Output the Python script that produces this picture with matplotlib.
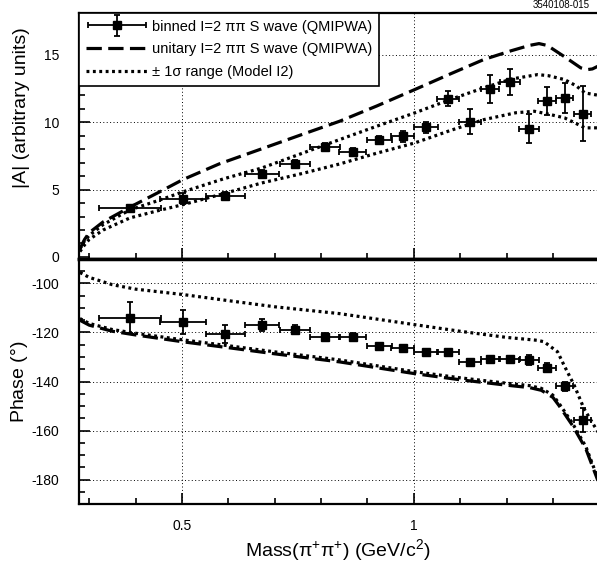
import numpy as np
import matplotlib
matplotlib.use("Agg")
import matplotlib.pyplot as plt
from matplotlib.ticker import MultipleLocator, FixedLocator, FuncFormatter
from matplotlib.legend_handler import HandlerErrorbar
from matplotlib.container import ErrorbarContainer

plt.rcParams['font.family'] = ['Liberation Sans', 'DejaVu Sans']
plt.rcParams['mathtext.fontset'] = 'custom'
plt.rcParams['mathtext.rm'] = 'Liberation Sans'
plt.rcParams['axes.unicode_minus'] = False

# binned points (mass in GeV/c^2)
mass = [0.388, 0.502, 0.593, 0.672, 0.744, 0.808, 0.868, 0.925, 0.976,
        1.027, 1.074, 1.121, 1.164, 1.207, 1.248, 1.287, 1.325, 1.364]
mass_err = [0.066, 0.049, 0.042, 0.037, 0.033, 0.032, 0.029, 0.027, 0.025,
            0.026, 0.023, 0.023, 0.020, 0.021, 0.021, 0.019, 0.019, 0.019]
amp = [3.64, 4.33, 4.53, 6.18, 6.90, 8.14, 7.80, 8.71, 8.95,
       9.62, 11.75, 10.04, 12.47, 12.96, 9.53, 11.58, 11.78, 10.62]
amp_err = [0.15, 0.40, 0.30, 0.30, 0.30, 0.30, 0.30, 0.30, 0.40,
           0.40, 0.56, 0.95, 1.03, 0.96, 1.09, 1.03, 1.10, 2.04]
phase = [-113.9, -115.7, -120.6, -116.9, -118.8, -121.8, -121.8, -125.5, -126.4,
         -127.9, -127.8, -132.2, -130.9, -130.9, -131.3, -134.3, -142.0, -155.9]
phase_err = [6.5, 4.8, 3.6, 2.4, 2.0, 1.5, 1.5, 1.0, 1.0,
             1.0, 1.0, 1.2, 1.2, 1.2, 2.0, 2.0, 2.0, 4.9]

# unitary curve, magnitude
uni_m = [0.280, 0.290, 0.300, 0.330, 0.388, 0.450, 0.502, 0.580, 0.670, 0.760,
         0.840, 0.920, 1.002, 1.080, 1.151, 1.210, 1.250, 1.270, 1.288, 1.323,
         1.360, 1.374, 1.385, 1.397]
uni_a = [0.6, 1.3, 1.8, 2.6, 3.7, 4.8, 5.74, 6.9, 8.0, 9.1,
         10.07, 11.2, 12.42, 13.6, 14.65, 15.3, 15.7, 15.83, 15.69, 14.9,
         14.03, 13.9, 13.95, 14.15]

# +-1 sigma band, magnitude
hi_m = [0.280, 0.290, 0.300, 0.330, 0.388, 0.450, 0.502, 0.590, 0.672, 0.760,
        0.840, 0.920, 1.002, 1.080, 1.151, 1.210, 1.267, 1.290, 1.325, 1.350,
        1.369, 1.397]
hi_a = [0.6, 1.2, 1.6, 2.4, 3.5, 4.2, 4.83, 5.8, 6.6, 7.7,
        8.71, 9.7, 10.69, 11.7, 12.55, 13.2, 13.53, 13.45, 13.16, 12.7,
        12.17, 12.0]
lo_m = [0.280, 0.290, 0.300, 0.330, 0.388, 0.450, 0.502, 0.590, 0.672, 0.760,
        0.840, 0.920, 1.002, 1.080, 1.151, 1.220, 1.260, 1.290, 1.325, 1.350,
        1.369, 1.397]
lo_a = [0.4, 0.9, 1.3, 2.0, 2.9, 3.45, 3.88, 4.7, 5.49, 6.2,
        6.9, 7.7, 8.46, 9.4, 10.19, 10.7, 10.81, 10.6, 10.32, 9.9,
        9.58, 9.58]

# phase curves
uni_pm = [0.280, 0.300, 0.350, 0.400, 0.502, 0.600, 0.700, 0.840, 1.002, 1.100,
          1.200, 1.250, 1.275, 1.300, 1.313, 1.342, 1.371, 1.397]
uni_ph = [-115.0, -117.0, -119.5, -121.0, -123.8, -126.2, -128.7, -132.0, -136.8, -139.3,
          -141.5, -142.5, -143.6, -146.5, -149.8, -157.9, -167.5, -180.5]
lo_ph = [-114.3, -116.3, -118.8, -120.3, -123.0, -125.4, -127.9, -131.2, -136.0, -138.5,
         -140.7, -141.7, -142.8, -145.6, -148.9, -157.0, -166.6, -179.6]
hi_pm = [0.280, 0.300, 0.350, 0.400, 0.502, 0.600, 0.700, 0.840, 1.002, 1.100,
         1.200, 1.267, 1.281, 1.310, 1.324, 1.346, 1.367, 1.397]
hi_ph = [-95.5, -97.5, -100.5, -102.3, -104.5, -107.0, -109.5, -112.3, -116.8, -119.5,
         -122.0, -123.2, -123.8, -127.9, -133.4, -141.6, -151.1, -160.6]

W, H = 597, 566
fig = plt.figure(figsize=(W / 100, H / 100), dpi=100)
ax1 = fig.add_axes([79 / W, 1 - 259 / H, 1 - 79 / W, 246 / H])
ax2 = fig.add_axes([79 / W, 62 / H, 1 - 79 / W, 245 / H])

dash = (0, (4.8, 2.0))
dot = (0, (0.9, 1.1))
grid_kw = dict(color='black', lw=0.7, ls=(0, (1, 2.5)), zorder=0)
eb_kw = dict(fmt='s', color='black', ms=6.3, elinewidth=1.3, capsize=2.5, capthick=1.3, zorder=5)

# top panel: magnitude
ax1.plot(uni_m, uni_a, color='black', lw=2.3, ls=dash, label='unitary I=2 ππ S wave (QMIPWA)')
ax1.plot(hi_m, hi_a, color='black', lw=2.3, ls=dot, label='± 1σ range (Model I2)')
ax1.plot(lo_m, lo_a, color='black', lw=2.3, ls=dot)
ax1.errorbar(mass, amp, xerr=mass_err, yerr=amp_err, label='binned I=2 ππ S wave (QMIPWA)', **eb_kw)

# bottom panel: phase
ax2.plot(uni_pm, uni_ph, color='black', lw=2.3, ls=dash)
ax2.plot(uni_pm, lo_ph, color='black', lw=2.3, ls=dot)
ax2.plot(hi_pm, hi_ph, color='black', lw=2.3, ls=dot)
ax2.errorbar(mass, phase, xerr=mass_err, yerr=phase_err, **eb_kw)

for ax in (ax1, ax2):
    ax.set_xlim(0.278, 1.395)
    ax.xaxis.set_major_locator(FixedLocator([0.5, 1.0]))
    ax.xaxis.set_minor_locator(MultipleLocator(0.1))
    ax.xaxis.set_major_formatter(FuncFormatter(lambda v, p: '%g' % v))
    ax.tick_params(which='both', direction='in', top=False, right=False, width=1.2, labelsize=10)
    ax.tick_params(which='major', length=8)
    ax.tick_params(which='minor', length=4.5)
    ax.tick_params(axis='y', pad=14)
    ax.tick_params(axis='x', pad=11)
    ax.spines['right'].set_visible(False)
    ax.spines['left'].set_linewidth(1.6)
    for v in (0.5, 1.0):
        ax.axvline(v, **grid_kw)

ax1.set_ylim(-0.15, 18.1)
ax1.yaxis.set_major_locator(MultipleLocator(5))
ax1.yaxis.set_minor_locator(MultipleLocator(1))
ax1.tick_params(axis='x', labelbottom=False)
ax1.spines['top'].set_linewidth(1.6)
ax1.spines['bottom'].set_linewidth(2.5)
for v in (5, 10, 15):
    ax1.axhline(v, **grid_kw)

ax2.set_ylim(-190, -90)
ax2.yaxis.set_major_locator(MultipleLocator(20))
ax2.yaxis.set_minor_locator(MultipleLocator(5))
ax2.spines['top'].set_linewidth(2.5)
ax2.spines['bottom'].set_linewidth(1.6)
for v in (-100, -120, -140, -160, -180):
    ax2.axhline(v, **grid_kw)

# legend order: points, unitary, band
handles, labels = ax1.get_legend_handles_labels()
order = [2, 0, 1]
leg = ax1.legend([handles[i] for i in order], [labels[i] for i in order],
                 loc='upper left', bbox_to_anchor=(0, 1), borderaxespad=0,
                 fontsize=10.5, handlelength=4.3, handletextpad=0.25, borderpad=0.45,
                 labelspacing=0.6, fancybox=False, framealpha=1, edgecolor='black',
                 handler_map={ErrorbarContainer: HandlerErrorbar(xerr_size=2.0, yerr_size=0.75)})
leg.get_frame().set_linewidth(1.2)

fig.text(22 / W, 1 - 108 / H, '|A| (arbitrary units)', rotation=90, ha='center', va='center', fontsize=14)
fig.text(20 / W, 1 - 382 / H, 'Phase ($\\degree$)', rotation=90, ha='center', va='center', fontsize=14)
fig.text(338 / W, 1 - 551 / H, 'Mass(π$^{+}$π$^{+}$) (GeV/c$^{2}$)', ha='center', va='center', fontsize=14)
fig.text(533 / W, 1 - 5 / H, '3540108-015', ha='left', va='center', fontsize=7)

fig.savefig('out.png', dpi=100)
